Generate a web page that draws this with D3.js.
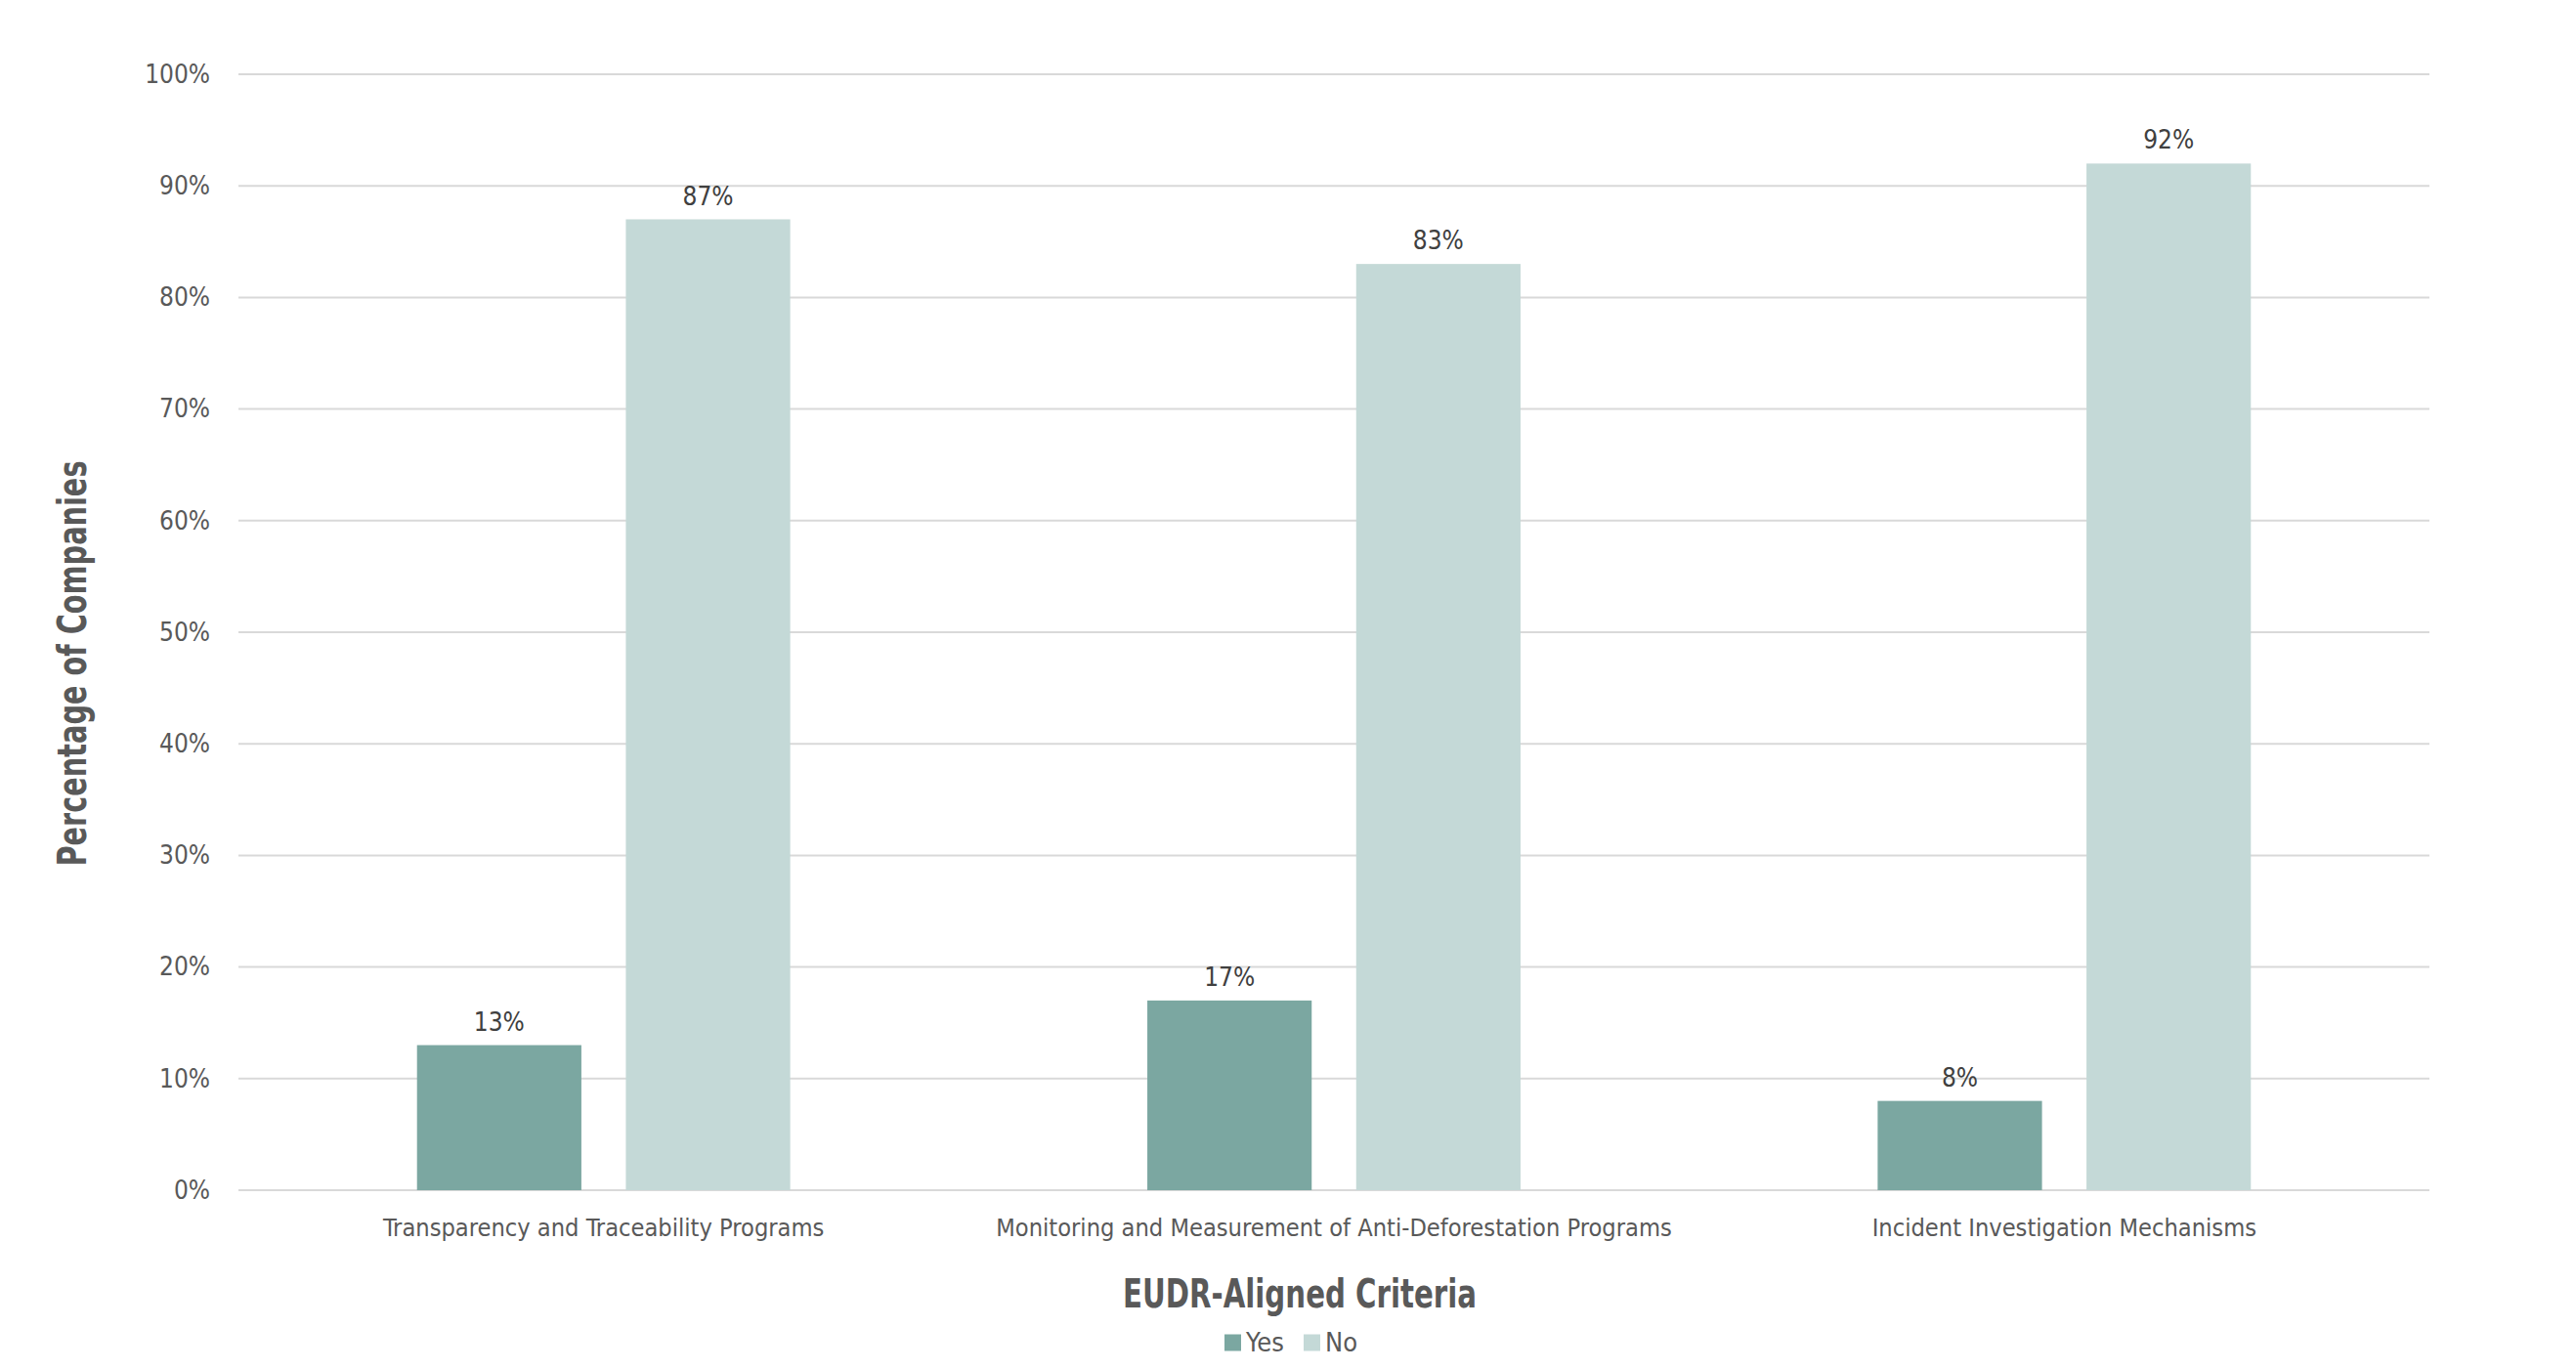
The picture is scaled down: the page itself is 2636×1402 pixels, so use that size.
<!DOCTYPE html>
<html><head><meta charset="utf-8">
<script src="https://cdn.jsdelivr.net/npm/d3@7"></script>
<style>
html,body{margin:0;padding:0;background:#fff;}
text{font-family:"DejaVu Sans Condensed","Liberation Sans Narrow",sans-serif;font-stretch:condensed;}
</style></head>
<body>
<svg id="chart" width="2636" height="1402"></svg>
<script>
const categories = ["Transparency and Traceability Programs","Monitoring and Measurement of Anti-Deforestation Programs","Incident Investigation Mechanisms"];
const seriesNames = ["Yes","No"];
const yesValues = [13,17,8];
const noValues = [87,83,92];
const yTicks = [0,10,20,30,40,50,60,70,80,90,100];
const colors = {Yes:"#7ba7a1", No:"#c4d9d7"};

const svg = d3.select("#chart");
const m = {left:244, right:2486, top:76, bottom:1218};

const x0 = d3.scaleBand().domain(categories).range([m.left, m.right]).paddingInner(0).paddingOuter(0);
const x1 = d3.scaleBand().domain(seriesNames).range([0, x0.bandwidth()]).paddingInner(0.213).paddingOuter(0.855);
const y = d3.scaleLinear().domain([0,100]).range([m.bottom, m.top]);

// gridlines
svg.append("g").selectAll("line").data(yTicks).join("line")
  .attr("x1", m.left).attr("x2", m.right)
  .attr("y1", d=>y(d)).attr("y2", d=>y(d))
  .attr("stroke", "#d9d9d9").attr("stroke-width", 2);

// y axis labels
const yAxis = d3.axisLeft(y).tickValues(yTicks).tickFormat(d=>d+"%").tickSize(0).tickPadding(0);
const gy = svg.append("g").attr("transform", `translate(${m.left-29},0)`).call(yAxis);
gy.select(".domain").remove();
gy.selectAll("text").attr("font-size", 26).attr("fill", "#595959")
  .style("font-family", '"DejaVu Sans Condensed",sans-serif');

// x axis labels
const xAxis = d3.axisBottom(x0).tickSize(0).tickPadding(0);
const gx = svg.append("g").attr("transform", `translate(0,${m.bottom+38})`).call(xAxis);
gx.select(".domain").remove();
gx.selectAll("text").attr("font-size", 25.2).attr("fill", "#595959").attr("dy","0.35em").attr("y",0)
  .style("font-family", '"DejaVu Sans Condensed",sans-serif');

// bars
const data = categories.map((c,i)=>({cat:c, vals:[{s:"Yes", v:yesValues[i]},{s:"No", v:noValues[i]}]}));
const groups = svg.append("g").selectAll("g").data(data).join("g")
  .attr("transform", d=>`translate(${x0(d.cat)},0)`);
groups.selectAll("rect").data(d=>d.vals).join("rect")
  .attr("x", d=>x1(d.s)).attr("width", x1.bandwidth())
  .attr("y", d=>y(d.v)).attr("height", d=>y(0)-y(d.v))
  .attr("fill", d=>colors[d.s]);
groups.selectAll("text").data(d=>d.vals).join("text")
  .attr("x", d=>x1(d.s)+x1.bandwidth()/2).attr("y", d=>y(d.v)-24).attr("dy","0.35em")
  .attr("text-anchor","middle").attr("font-size", 26).attr("fill","#404040")
  .text(d=>d.v+"%");

// axis titles
svg.append("text").attr("x", 1330).attr("y", 1324).attr("dy","0.35em").attr("text-anchor","middle")
  .attr("font-size", 40).attr("font-weight","bold").attr("fill","#595959")
  .attr("textLength", 362).attr("lengthAdjust","spacingAndGlyphs")
  .text("EUDR-Aligned Criteria");
svg.append("text").attr("transform", `translate(74,679) rotate(-90)`).attr("dy","0.35em")
  .attr("text-anchor","middle").attr("font-size", 40).attr("font-weight","bold").attr("fill","#595959")
  .attr("textLength", 415).attr("lengthAdjust","spacingAndGlyphs")
  .text("Percentage of Companies");

// legend
const legend = svg.append("g").attr("transform","translate(1253,1374)");
const li = legend.selectAll("g").data(seriesNames).join("g")
  .attr("transform", (d,i)=>`translate(${i*81},0)`);
li.append("rect").attr("x",0).attr("y",-8.5).attr("width",17).attr("height",17).attr("fill", d=>colors[d]);
li.append("text").attr("x",22).attr("y",0).attr("dy","0.35em").attr("font-size",27).attr("fill","#595959").text(d=>d);
</script>
</body></html>
